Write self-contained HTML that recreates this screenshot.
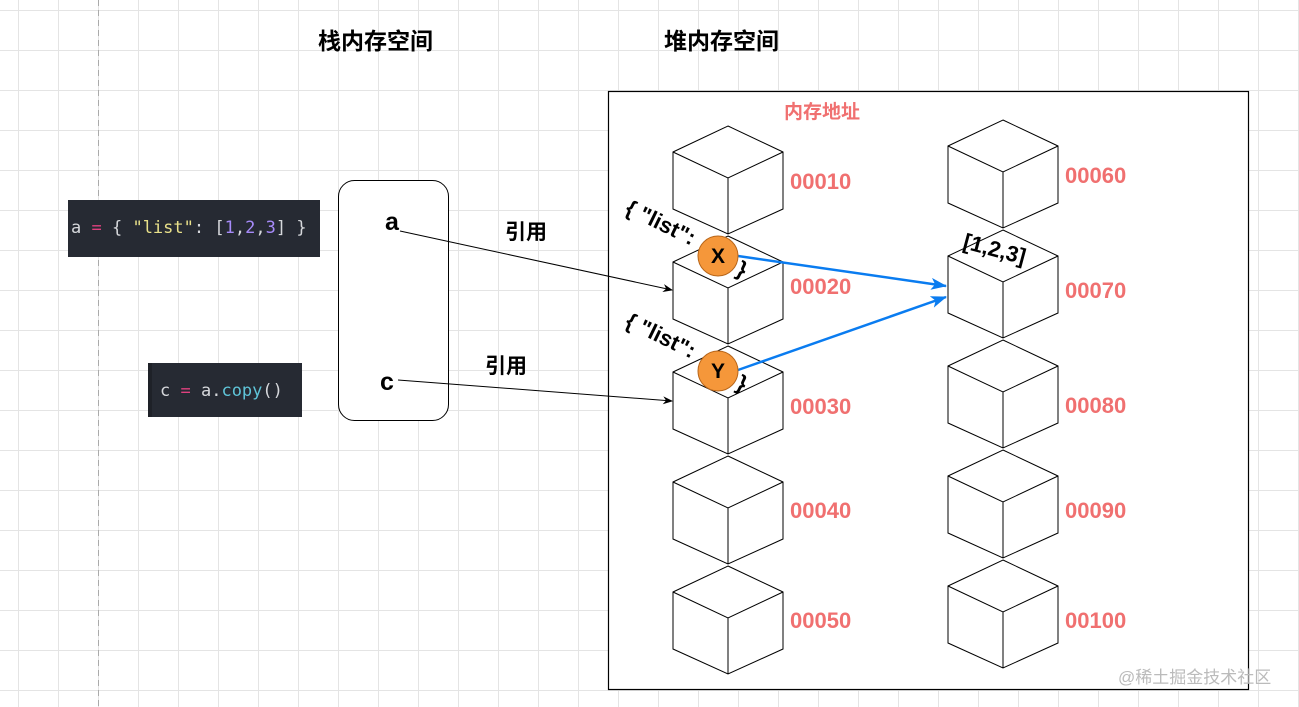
<!DOCTYPE html>
<html><head><meta charset="utf-8"><style>
html,body{margin:0;padding:0;background:#fff}
body{width:1299px;height:707px;overflow:hidden;position:relative;
background-image:linear-gradient(to right,#e4e4e4 1px,transparent 1px),linear-gradient(to bottom,#e4e4e4 1px,transparent 1px);
background-size:40px 40px;background-position:18px 10px;}
svg{position:absolute;left:0;top:0;z-index:0}
.code{position:absolute;z-index:2;background:#262a33;font-family:"DejaVu Sans Mono","Liberation Mono",monospace;font-size:17px;color:#d6d8dc;white-space:pre;box-sizing:border-box}
</style></head><body>
<div class="code" style="left:68px;top:200px;width:252px;height:57px;line-height:57px;padding-left:3px">a <span style="color:#e0417f">=</span> { <span style="color:#e8e08a">"list"</span>: [<span style="color:#a78bfa">1</span>,<span style="color:#a78bfa">2</span>,<span style="color:#a78bfa">3</span>] }</div>
<div class="code" style="left:148px;top:363px;width:154px;height:54px;line-height:56px;padding-left:8px;border-left:4px solid #1e2128">c <span style="color:#e0417f">=</span> a.<span style="color:#5fc4d8">copy</span>()</div>
<svg width="1299" height="707" viewBox="0 0 1299 707" xmlns="http://www.w3.org/2000/svg" font-family="Liberation Sans, Noto Sans CJK SC, sans-serif">
<line x1="98.5" y1="0" x2="98.5" y2="707" stroke="#aaa" stroke-dasharray="6,4"/>
<rect x="608.5" y="91.5" width="640" height="598" fill="#fff" stroke="#000" stroke-width="1.2"/>
<rect x="338.5" y="180.5" width="110" height="240" rx="16" fill="#fff" stroke="#000"/>
<g font-weight="bold" font-size="23" fill="#000">
<text x="318" y="49">栈内存空间</text>
<text x="664" y="49">堆内存空间</text>
</g>
<text x="784" y="118" font-size="19" font-weight="bold" fill="#f07070">内存地址</text>
<g fill="#fff" stroke="#000" stroke-width="1">
<g><path d="M728,126 L783,152 L783,209 L728,234 L673,209 L673,152 Z"/><path d="M673,152 L728,178 L783,152 M728,178 L728,234" fill="none"/></g>
<g transform="translate(0,110)"><path d="M728,126 L783,152 L783,209 L728,234 L673,209 L673,152 Z"/><path d="M673,152 L728,178 L783,152 M728,178 L728,234" fill="none"/></g>
<g transform="translate(0,220)"><path d="M728,126 L783,152 L783,209 L728,234 L673,209 L673,152 Z"/><path d="M673,152 L728,178 L783,152 M728,178 L728,234" fill="none"/></g>
<g transform="translate(0,330)"><path d="M728,126 L783,152 L783,209 L728,234 L673,209 L673,152 Z"/><path d="M673,152 L728,178 L783,152 M728,178 L728,234" fill="none"/></g>
<g transform="translate(0,440)"><path d="M728,126 L783,152 L783,209 L728,234 L673,209 L673,152 Z"/><path d="M673,152 L728,178 L783,152 M728,178 L728,234" fill="none"/></g>
<g transform="translate(275,-6)"><path d="M728,126 L783,152 L783,209 L728,234 L673,209 L673,152 Z"/><path d="M673,152 L728,178 L783,152 M728,178 L728,234" fill="none"/></g>
<g transform="translate(275,104)"><path d="M728,126 L783,152 L783,209 L728,234 L673,209 L673,152 Z"/><path d="M673,152 L728,178 L783,152 M728,178 L728,234" fill="none"/></g>
<g transform="translate(275,214)"><path d="M728,126 L783,152 L783,209 L728,234 L673,209 L673,152 Z"/><path d="M673,152 L728,178 L783,152 M728,178 L728,234" fill="none"/></g>
<g transform="translate(275,324)"><path d="M728,126 L783,152 L783,209 L728,234 L673,209 L673,152 Z"/><path d="M673,152 L728,178 L783,152 M728,178 L728,234" fill="none"/></g>
<g transform="translate(275,434)"><path d="M728,126 L783,152 L783,209 L728,234 L673,209 L673,152 Z"/><path d="M673,152 L728,178 L783,152 M728,178 L728,234" fill="none"/></g>
</g>
<g font-size="22" font-weight="bold" fill="#f07070">
<text x="790" y="189">00010</text>
<text x="790" y="294">00020</text>
<text x="790" y="414">00030</text>
<text x="790" y="518">00040</text>
<text x="790" y="628">00050</text>
<text x="1065" y="183">00060</text>
<text x="1065" y="298">00070</text>
<text x="1065" y="413">00080</text>
<text x="1065" y="518">00090</text>
<text x="1065" y="628">00100</text>
</g>
<g font-size="25" font-weight="bold">
<text x="385" y="230">a</text>
<text x="380" y="390">c</text>
</g>
<g font-size="21" font-weight="bold">
<text x="505" y="239">引用</text>
<text x="485" y="373">引用</text>
</g>
<defs>
<marker id="ak" markerWidth="10" markerHeight="8" refX="9" refY="4" orient="auto" markerUnits="userSpaceOnUse"><path d="M0,0 L10,4 L0,8 L3,4 Z" fill="#000"/></marker>
<marker id="ab" markerWidth="16" markerHeight="12" refX="15" refY="6" orient="auto" markerUnits="userSpaceOnUse"><path d="M0,0 L16,6 L0,12 L4,6 Z" fill="#0a7cf0"/></marker>
</defs>
<line x1="400" y1="231" x2="672" y2="290" stroke="#000" stroke-width="1" marker-end="url(#ak)"/>
<line x1="398" y1="380" x2="672" y2="401" stroke="#000" stroke-width="1" marker-end="url(#ak)"/>
<g font-size="22" font-weight="bold" fill="#000">
<text transform="translate(624,213) rotate(26)">{ "list":</text>
<text transform="translate(735,274) rotate(26)">}</text>
<text transform="translate(624,326) rotate(26)">{ "list":</text>
<text transform="translate(735,388) rotate(26)">}</text>
<text transform="translate(962,248) rotate(15)">[1,2,3]</text>
</g>
<line x1="738" y1="256" x2="946" y2="286" stroke="#0a7cf0" stroke-width="2.5" marker-end="url(#ab)"/>
<line x1="738" y1="370" x2="946" y2="297" stroke="#0a7cf0" stroke-width="2.5" marker-end="url(#ab)"/>
<circle cx="718" cy="256" r="20" fill="#f5973a" stroke="#b8661a" stroke-width="1"/>
<circle cx="718" cy="371" r="20" fill="#f5973a" stroke="#b8661a" stroke-width="1"/>
<g font-size="21" font-weight="bold" text-anchor="middle">
<text x="718" y="263">X</text>
<text x="718" y="378">Y</text>
</g>
<text x="1118" y="683" font-size="17" fill="#bbb">@稀土掘金技术社区</text>
</svg>
</body></html>
